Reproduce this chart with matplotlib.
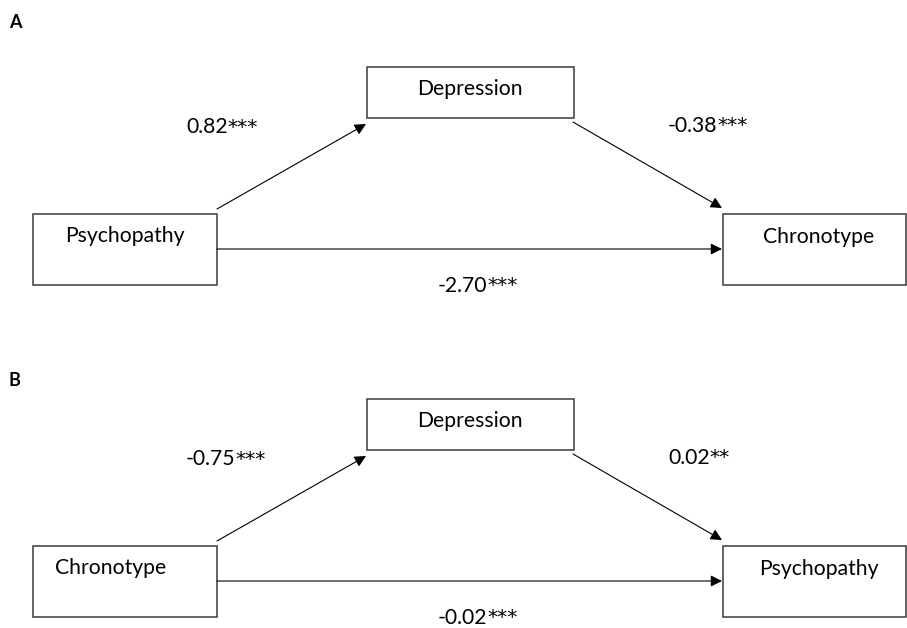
import matplotlib.pyplot as plt
from matplotlib.patches import Rectangle

# --- Data ---
panels = ["A", "B"]
predictors = ["Psychopathy", "Chronotype"]
mediators = ["Depression", "Depression"]
outcomes = ["Chronotype", "Psychopathy"]
path_a = ["0.82***", "-0.75***"]
path_b = ["-0.38***", "0.02**"]
path_c = ["-2.70***", "-0.02***"]

# --- Layout (pixel coords, y down) ---
W, H = 907, 628
panel_off = [0, 332]          # vertical offset of each panel
tag_y = [23, 381]
left_box = (33, 214, 217, 285)      # x0, y0, x1, y1
mid_box = (367, 67, 574, 118)
right_box = (723, 214, 906, 285)
pred_text_x = [125, 111]

plt.rcParams["font.family"] = ["Lato", "DejaVu Sans"]
fig = plt.figure(figsize=(W / 100, H / 100), dpi=100)
ax = fig.add_axes([0, 0, 1, 1])
ax.set_xlim(0, W)
ax.set_ylim(H, 0)
ax.axis("off")

BOX_EC = "#3a3a3a"
FS = 15.2


def box(x0, y0, x1, y1):
    ax.add_patch(Rectangle((x0, y0), x1 - x0, y1 - y0, fill=False,
                           ec=BOX_EC, lw=1.1))


def arrow(x0, y0, x1, y1):
    ax.annotate("", xy=(x1, y1), xytext=(x0, y0),
                arrowprops=dict(arrowstyle="-|>", color="black", lw=0.8,
                                mutation_scale=17, shrinkA=0, shrinkB=0))


def coef(x, y, s):
    # number in Lato, stars a touch larger like the original's Calibri
    num = s.rstrip("*")
    stars = s[len(num):]
    t = ax.text(x, y, num, fontsize=FS, ha="left", va="center")
    ax.annotate(stars, xycoords=t, xy=(1, 0.5), xytext=(-0.3, 0),
                textcoords="offset points", fontsize=FS - 0.5, va="center",
                ha="left", family=["DejaVu Sans"])


for i, tag in enumerate(panels):
    off = panel_off[i]
    ax.text(9, tag_y[i], tag, fontsize=13, fontweight="bold",
            va="center", ha="left")

    lx0, ly0, lx1, ly1 = left_box
    mx0, my0, mx1, my1 = mid_box
    rx0, ry0, rx1, ry1 = right_box
    box(lx0, ly0 + off, lx1, ly1 + off)
    box(mx0, my0 + off, mx1, my1 + off)
    box(rx0, ry0 + off, rx1, ry1 + off)

    ax.text(pred_text_x[i], 236 + off, predictors[i], fontsize=FS,
            ha="center", va="center")
    ax.text(470, 89 + off, mediators[i], fontsize=FS, ha="center", va="center")
    ax.text(819, 237 + off, outcomes[i], fontsize=FS, ha="center", va="center")

    # paths
    arrow(217, 209 + off, 366, 124 + off)
    arrow(573, 122 + off, 722, 208 + off)
    arrow(217, 249 + off, 722, 249 + off)

    coef(186, 127 + off, path_a[i])
    coef(668, 126 + off, path_b[i])
    coef(438, 286 + off, path_c[i])

fig.savefig("out.png", dpi=100)
